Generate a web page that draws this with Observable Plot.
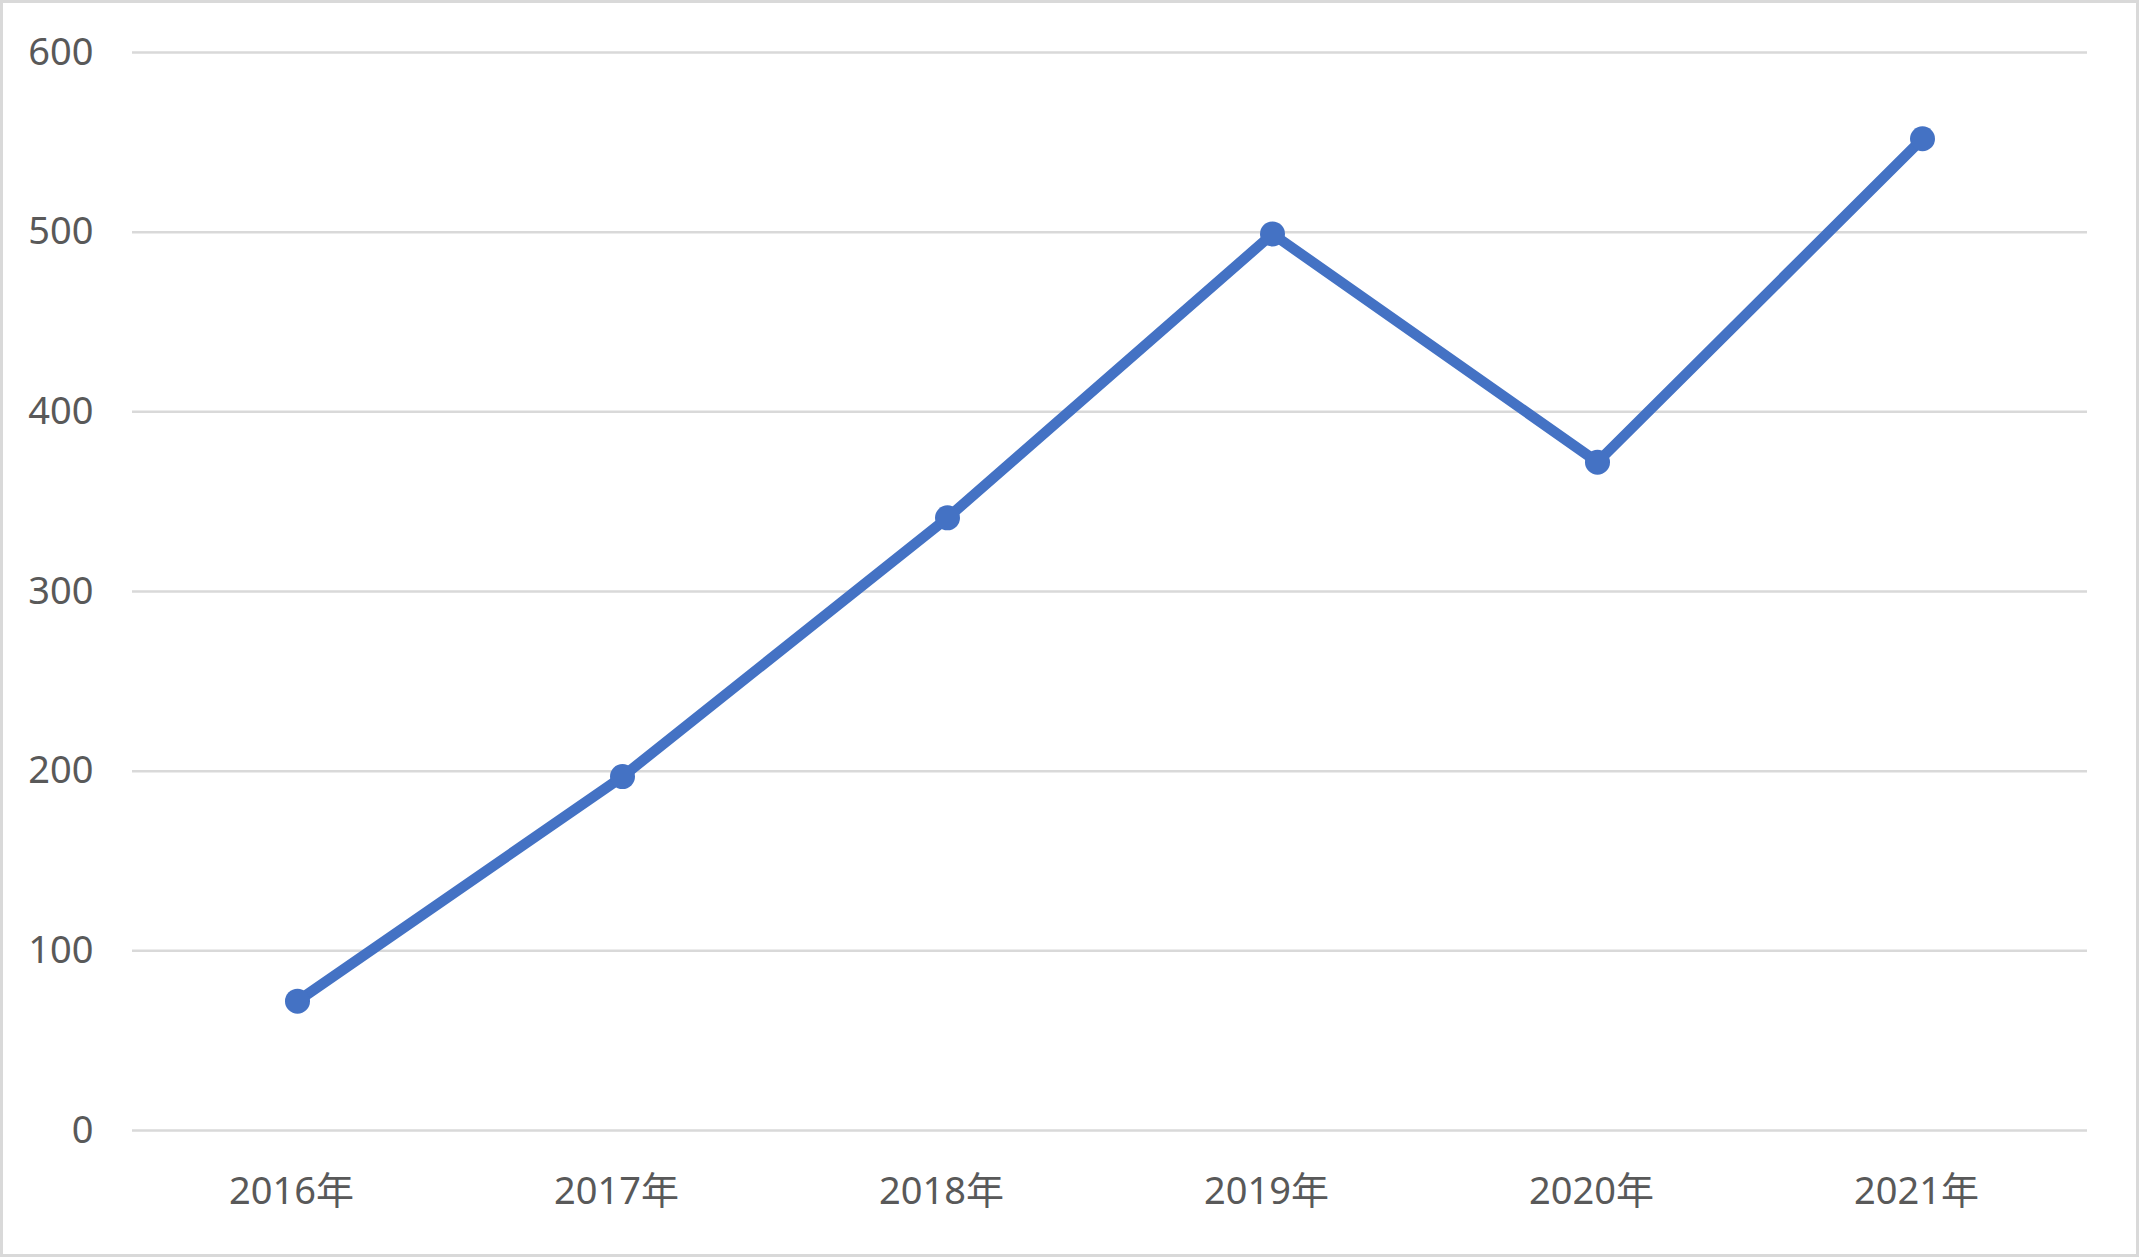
<!DOCTYPE html>
<html>
<head>
<meta charset="utf-8">
<script src="https://cdn.jsdelivr.net/npm/d3@7"></script>
<script src="https://cdn.jsdelivr.net/npm/@observablehq/plot@0.6"></script>
<style>
  html, body { margin: 0; padding: 0; background: #fff; }
  #wrap { position: relative; width: 2139px; height: 1257px; overflow: hidden; }
  #wrap::after { content: ""; position: absolute; inset: 0; border: 3px solid #d9d9d9; pointer-events: none; }
  #wrap svg { display: block; }
</style>
</head>
<body>
<div id="wrap"></div>
<script>
const years = ["2016年", "2017年", "2018年", "2019年", "2020年", "2021年"];
const values = [72, 197, 341, 499, 372, 552];
const yTicks = [0, 100, 200, 300, 400, 500, 600];

const data = years.map((year, i) => ({year, value: values[i]}));

const blue = "#4472C4";
const font = "'Noto Sans', 'Noto Sans CJK SC', sans-serif";

const chart = Plot.plot({
  width: 2139,
  height: 1257,
  marginLeft: 132,
  marginRight: 52,
  marginTop: 52,
  marginBottom: 127,
  style: {fontFamily: font, fontSize: "38px", color: "#595959", background: "transparent"},
  x: {type: "point", domain: years, padding: 0.5},
  y: {domain: [0, 600]},
  marks: [
    Plot.ruleY(yTicks, {stroke: "#d9d9d9", strokeWidth: 2.5}),
    Plot.axisY({ticks: yTicks, tickSize: 0, tickPadding: 39, label: null, fill: "#595959", fontSize: 38}),
    Plot.axisX({tickSize: 0, tickPadding: 47, dx: -6, label: null, fill: "#595959", fontSize: 38}),
    Plot.line(data, {x: "year", y: "value", stroke: blue, strokeWidth: 10.5, strokeLinejoin: "round", strokeLinecap: "round"}),
    Plot.dot(data, {x: "year", y: "value", r: 12.5, fill: blue, stroke: "none"})
  ]
});
document.getElementById("wrap").appendChild(chart);
</script>
</body>
</html>
